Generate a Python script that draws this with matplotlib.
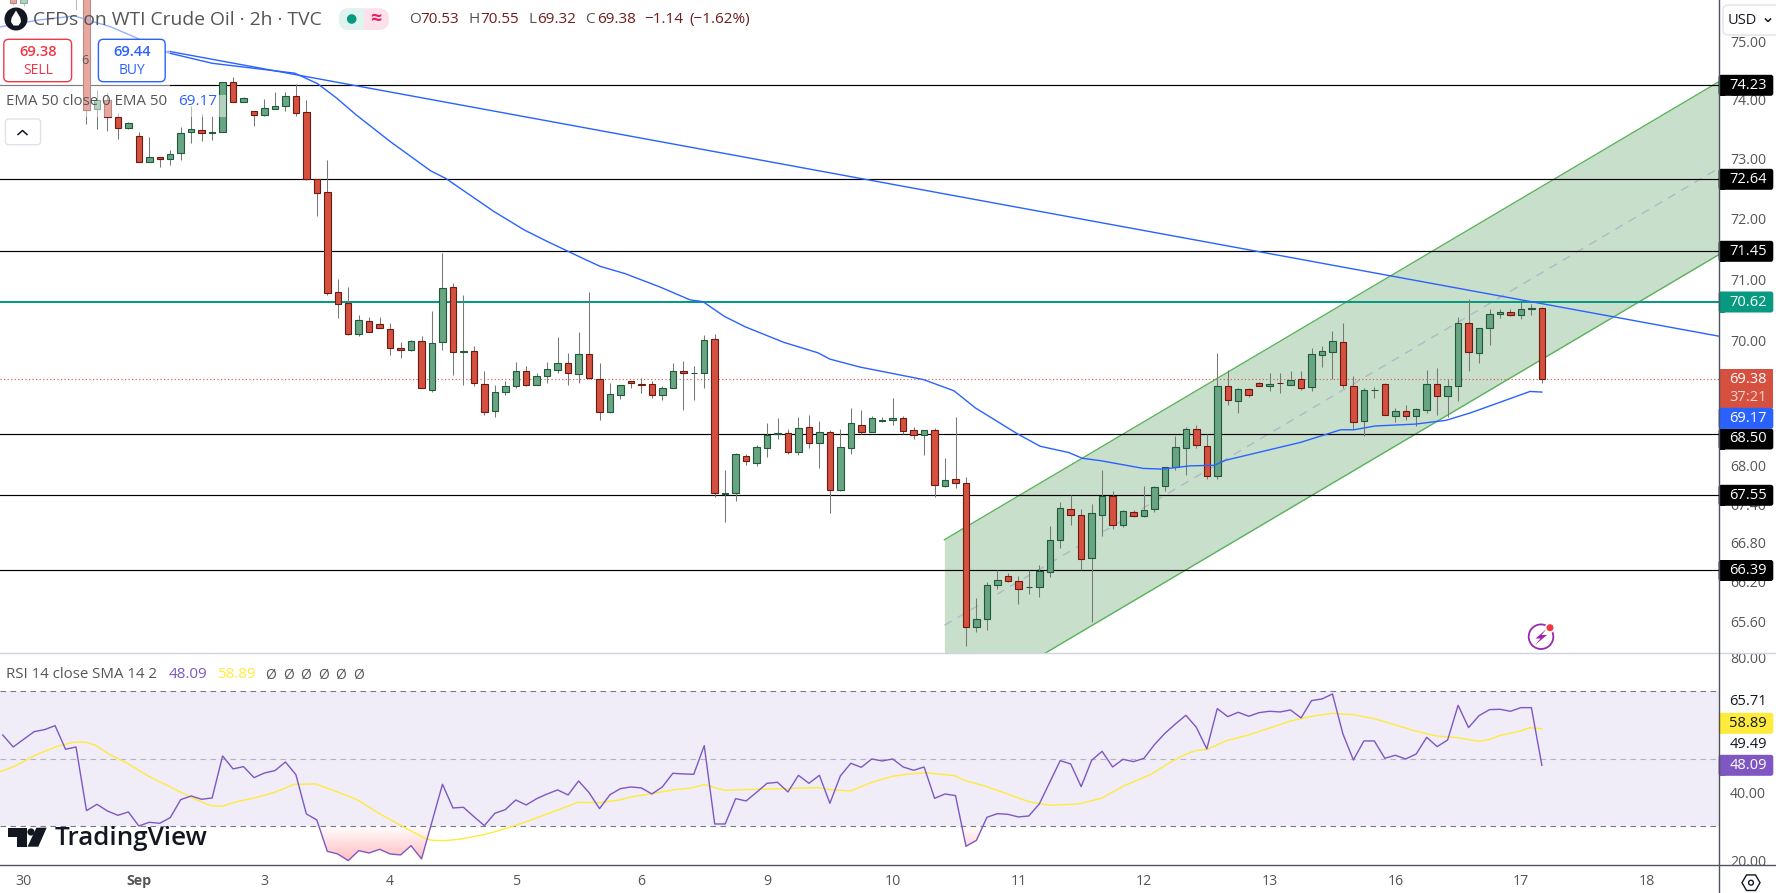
import matplotlib
matplotlib.use("Agg")
import matplotlib.pyplot as plt
import numpy as np
from matplotlib.colors import LinearSegmentedColormap
from matplotlib.patches import Circle, FancyBboxPatch, Polygon, Rectangle, RegularPolygon
from matplotlib.path import Path

plt.rcParams['font.family'] = ['Open Sans', 'DejaVu Sans']

nan = float('nan')

# 2h candles, bars 2-5 sit above the visible range
opens = [76.06, 75.67, nan, nan, nan, nan, 76.30, 76.00, 73.85, 74.00,
         73.71, 73.53, 73.38, 72.95, 73.03, 72.99, 73.10, 73.45, 73.49, 73.44,
         73.46, 74.30, 73.97, 73.81, 73.75, 73.85, 73.89, 74.06, 73.79, 72.66,
         72.44, 70.79, 70.61, 70.11, 70.31, 70.27, 70.19, 69.88, 69.84, 69.99,
         69.21, 69.97, 70.87, 69.81, 69.83, 69.30, 68.87, 69.17, 69.26, 69.51,
         69.29, 69.42, 69.52, 69.64, 69.46, 69.78, 69.38, 68.85, 69.13, 69.35,
         69.30, 69.30, 69.12, 69.24, 69.51, 69.47, 69.47, 70.02, 67.56, 67.57,
         68.16, 68.04, 68.28, 68.51, 68.52, 68.22, 68.62, 68.36, 68.54, 67.62,
         68.28, 68.65, 68.53, 68.71, 68.72, 68.76, 68.56, 68.49, 68.56, 67.68,
         67.80, 67.73, 65.51, 65.63, 66.15, 66.29, 66.21, 66.12, 66.12, 66.36,
         66.85, 67.32, 67.23, 66.57, 67.24, 67.53, 67.07, 67.28, 67.21, 67.32,
         67.68, 67.98, 68.28, 68.59, 68.32, 67.84, 69.27, 69.02, 69.22, 69.32,
         69.26, 69.32, 69.29, 69.38, 69.25, 69.77, 69.81, 69.98, 69.27, 68.71,
         69.20, 69.30, 68.79, 68.87, 68.79, 68.88, 69.30, 69.10, 69.26, 70.28,
         69.79, 70.21, 70.43, 70.46, 70.41, 70.51, 70.53]
highs = [76.20, 76.20, nan, nan, nan, nan, 76.40, 76.10, 74.17, 74.12,
         73.78, 73.63, 73.46, 73.37, 73.04, 73.15, 73.54, 73.89, 73.76, 73.73,
         74.31, 74.39, 74.05, 73.82, 74.02, 74.13, 74.13, 74.27, 74.00, 72.66,
         72.98, 71.00, 70.87, 70.42, 70.38, 70.38, 70.28, 69.98, 70.01, 70.07,
         70.48, 71.43, 70.93, 70.74, 69.91, 69.51, 69.29, 69.35, 69.66, 69.59,
         69.47, 69.66, 70.05, 69.80, 70.13, 70.79, 69.63, 69.32, 69.29, 69.35,
         69.40, 69.35, 69.27, 69.63, 69.67, 69.59, 70.09, 70.11, 67.94, 68.20,
         68.18, 68.33, 68.68, 68.75, 68.59, 68.78, 68.81, 68.71, 68.56, 68.59,
         68.92, 68.88, 68.79, 68.78, 69.07, 68.79, 68.62, 68.57, 68.60, 68.13,
         68.78, 67.83, 65.95, 66.20, 66.38, 66.33, 66.29, 66.38, 66.46, 67.06,
         67.44, 67.54, 67.32, 67.41, 67.94, 67.60, 67.31, 67.31, 67.69, 67.69,
         67.99, 68.47, 68.61, 68.64, 68.51, 69.79, 69.53, 69.24, 69.23, 69.33,
         69.48, 69.47, 69.50, 69.50, 69.88, 69.91, 70.16, 70.29, 69.43, 69.24,
         69.25, 69.31, 68.92, 68.97, 68.91, 69.53, 69.55, 69.38, 70.38, 70.68,
         70.21, 70.51, 70.51, 70.51, 70.62, 70.60, 70.55]
lows = [75.65, 75.63, nan, nan, nan, nan, 75.55, 73.59, 73.51, 73.47,
        73.34, 73.51, 72.94, 72.95, 72.87, 72.90, 72.98, 73.27, 73.31, 73.32,
        73.45, 73.97, 73.97, 73.55, 73.72, 73.85, 73.82, 73.73, 72.65, 72.05,
        70.74, 70.37, 70.09, 70.08, 70.13, 70.20, 69.77, 69.71, 69.83, 69.23,
        69.17, 69.85, 69.45, 69.29, 69.27, 68.80, 68.77, 69.13, 69.24, 69.26,
        69.29, 69.31, 69.47, 69.29, 69.31, 69.38, 68.73, 68.84, 69.06, 69.24,
        69.15, 69.07, 69.04, 69.23, 68.89, 69.05, 69.24, 67.51, 67.13, 67.45,
        68.02, 68.00, 68.14, 68.43, 68.19, 68.17, 68.28, 67.96, 67.27, 67.61,
        68.19, 68.51, 68.53, 68.69, 68.65, 68.51, 68.42, 68.17, 67.52, 67.67,
        67.65, 65.23, 65.44, 65.47, 66.10, 66.20, 65.87, 66.02, 65.97, 66.27,
        66.72, 67.08, 66.38, 65.59, 66.91, 67.02, 67.05, 67.20, 67.20, 67.28,
        67.61, 67.93, 67.86, 68.28, 67.80, 67.79, 68.96, 68.83, 69.09, 69.26,
        69.18, 69.16, 69.28, 69.21, 69.18, 69.58, 69.38, 69.23, 68.59, 68.47,
        69.08, 68.80, 68.69, 68.73, 68.63, 68.83, 68.81, 68.77, 69.02, 69.51,
        69.63, 69.93, 70.37, 70.40, 70.34, 70.42, 69.32]
closes = [75.67, 76.06, nan, nan, nan, nan, 75.90, 73.83, 74.00, 73.71,
          73.53, 73.60, 72.95, 73.03, 72.99, 73.09, 73.43, 73.50, 73.43, 73.45,
          74.30, 73.97, 74.03, 73.75, 73.86, 73.89, 74.06, 73.78, 72.66, 72.43,
          70.78, 70.60, 70.11, 70.33, 70.13, 70.20, 69.88, 69.85, 69.99, 69.24,
          69.96, 70.85, 69.81, 69.83, 69.32, 68.85, 69.17, 69.27, 69.51, 69.29,
          69.43, 69.54, 69.64, 69.47, 69.78, 69.39, 68.85, 69.14, 69.29, 69.32,
          69.28, 69.12, 69.24, 69.51, 69.47, 69.48, 70.00, 67.57, 67.58, 68.18,
          68.08, 68.29, 68.49, 68.52, 68.22, 68.60, 68.36, 68.54, 67.62, 68.29,
          68.67, 68.53, 68.76, 68.72, 68.76, 68.55, 68.49, 68.56, 67.70, 67.78,
          67.73, 65.51, 65.64, 66.15, 66.23, 66.21, 66.10, 66.13, 66.37, 66.84,
          67.34, 67.24, 66.56, 67.26, 67.53, 67.07, 67.29, 67.21, 67.31, 67.67,
          67.99, 68.29, 68.59, 68.33, 67.84, 69.27, 69.05, 69.22, 69.13, 69.26,
          69.30, 69.31, 69.37, 69.23, 69.78, 69.83, 69.99, 69.28, 68.69, 69.21,
          69.21, 68.80, 68.87, 68.79, 68.90, 69.30, 69.10, 69.27, 70.28, 69.81,
          70.20, 70.43, 70.46, 70.41, 70.51, 70.52, 69.38]

ema_bars = [-1.26, 2.37, 5.86, 9.34, 11.90, 14.82, 19.03, 26.89, 29.07, 30.91, 32.73, 36.03,
            39.86, 41.32, 44.06, 45.89, 48.82, 51.01, 54.66, 56.05, 58.43, 61.78, 64.64,
            65.88, 67.93, 69.93, 73.59, 76.87, 77.98, 80.90, 86.94, 89.86, 91.87, 95.87,
            98.07, 100.82, 102.10, 103.93, 107.95, 109.78, 112.34, 114.72, 115.82, 122.94,
            126.78, 128.06, 130.07, 133.91, 136.84, 139.21, 144.87, 146.0]
ema_vals = [75.26, 75.38, 75.45, 75.26, 75.06, 74.81, 74.63, 74.46, 74.28, 74.03, 73.75, 73.29,
            72.80, 72.67, 72.34, 72.12, 71.81, 71.62, 71.32, 71.21, 71.09, 70.87, 70.66,
            70.63, 70.39, 70.22, 69.97, 69.80, 69.70, 69.57, 69.37, 69.19, 68.92, 68.51,
            68.31, 68.21, 68.12, 68.08, 67.96, 67.95, 68.00, 68.01, 68.09, 68.37,
            68.57, 68.57, 68.63, 68.66, 68.72, 68.84, 69.18, 69.17]

# straight drawings on the chart
trend_bars = [14.78, 162.88]
trend_vals = [74.84, 70.07]
channel_bars = [88.94, 162.88]
channel_upper = [66.85, 74.31]
channel_mid = [65.54, 72.84]
channel_lower = [64.23, 71.40]

# where the lines sit on the axis, slightly off the numbers printed on their badges
support_levels = [74.25, 72.66, 71.46, 68.50, 67.55, 66.39]
pivot_level = 70.63
last_price = 69.38

price_ticks = [75, 74, 73, 72, 71, 70, 68, 67.4, 66.8, 66.2, 65.6]

rsi_vals = [57.06, 53.51, 55.78, 58.05, 58.64, 59.83, 52.82, 53.51, 34.64, 36.52, 34.54, 33.26,
            34.25, 30.10, 31.19, 30.89, 32.57, 37.90, 38.99, 38.00, 38.40, 50.84, 47.00, 47.68,
            44.42, 45.80, 46.50, 49.06, 45.31, 33.66, 31.88, 22.59, 21.80, 19.83, 22.79, 22.10,
            23.19, 21.80, 21.51, 24.27, 20.32, 31.38, 42.45, 35.43, 35.63, 32.87, 30.20, 33.85,
            34.94, 37.80, 36.32, 38.20, 39.58, 40.77, 39.29, 43.43, 39.98, 35.24, 39.38, 41.16,
            41.66, 41.36, 39.58, 41.66, 45.71, 45.51, 45.41, 53.90, 30.69, 30.69, 38.20, 37.51,
            40.08, 42.74, 43.04, 40.18, 45.11, 42.74, 45.11, 36.82, 44.92, 48.67, 47.48, 49.95,
            49.36, 49.95, 47.58, 46.59, 47.58, 38.30, 39.58, 39.09, 24.07, 25.85, 32.67, 33.75,
            33.56, 32.77, 33.06, 36.62, 43.04, 49.46, 48.47, 41.75, 49.56, 52.22, 47.58, 49.85,
            49.16, 50.15, 54.20, 57.56, 60.32, 62.89, 59.34, 52.92, 64.87, 62.50, 63.78, 62.60,
            63.68, 64.08, 63.88, 64.47, 62.10, 67.24, 67.73, 69.21, 57.36, 49.66, 55.29, 55.29,
            50.15, 51.04, 49.95, 51.43, 56.37, 53.61, 55.58, 65.85, 59.24, 62.79, 64.57, 64.67,
            64.08, 65.16, 65.16, 48.09]

sma_bars = [-1.26, 0.2, 2.03, 4.22, 5.87, 6.96, 7.88, 9.16, 10.8, 13, 14.82, 16.83, 18.84, 19.94,
            21.4, 23.04, 24.87, 26.88, 28.89, 30.9, 32.91, 34.92, 37.12, 39.31, 40.04, 41.14,
            42.6, 44.98, 47.35, 49.91, 52.1, 53.93, 56.05, 57.88, 58.97, 60.8, 62.99, 64.82,
            65.99, 67.93, 69.94, 73.59, 76.88, 77.98, 79.99, 82, 84, 85.29, 87.12, 89.86, 90.95,
            92.78, 94.79, 96.98, 99, 101.74, 103.93, 106.12, 108.68, 110.51, 111.97, 113, 113.98,
            115.81, 118, 119.83, 122.03, 123.85, 125.94, 127.98, 129.99, 131.89, 133.9, 135.91,
            137.92, 139.93, 140.96, 141.94, 143.95, 144.87, 146]
sma_vals = [46.20, 47.88, 50.94, 53.71, 54.99, 54.89, 54.00, 51.34, 48.87, 44.72, 41.95, 38.79,
            36.12, 35.93, 37.31, 38.40, 39.98, 42.45, 42.55, 40.27, 37.80, 33.85, 30.10, 26.45,
            25.85, 25.75, 26.15, 27.53, 29.61, 32.37, 34.94, 37.11, 37.01, 37.80, 38.69, 39.58,
            40.77, 41.36, 42.35, 40.67, 40.87, 41.16, 41.46, 40.87, 40.47, 43.04, 44.82, 45.41,
            45.90, 45.01, 43.53, 41.95, 39.78, 37.31, 36.22, 36.62, 38.30, 42.05, 45.41, 48.97,
            51.34, 52.52, 52.72, 55.29, 57.07, 58.94, 61.21, 62.50, 63.48, 63.09, 61.90, 60.13,
            58.25, 56.77, 56.27, 55.19, 55.68, 56.87, 58.25, 59.24, 58.89]

rsi_ticks = [80, 40, 20]
day_ticks = [1, 12, 24, 36, 48, 60, 72, 84, 96, 108, 120, 132, 144, 156]
day_labels = ['30', 'Sep', '3', '4', '5', '6', '9', '10', '11', '12', '13', '16', '17', '18']

W, H = 1776, 893
AXIS_X = 1718.6
MAIN_BOTTOM = 652.5
RSI_TOP, RSI_BOTTOM = 653.0, 864.5

fig = plt.figure(figsize=(W / 100, H / 100), dpi=100, facecolor='white')
ax = fig.add_axes([0, (H - MAIN_BOTTOM) / H, AXIS_X / W, MAIN_BOTTOM / H])
ax_rsi = fig.add_axes([0, (H - RSI_BOTTOM) / H, AXIS_X / W, (RSI_BOTTOM - RSI_TOP) / H])
chrome = fig.add_axes([0, 0, 1, 1], zorder=10)

xlim = (-1.26, 162.88)
bars = np.arange(len(opens))
opens, highs, lows, closes = map(np.array, (opens, highs, lows, closes))

# price pane
ax.set_yscale('log')
ax.fill_between(channel_bars, channel_lower, channel_upper, color='#c8dfcb', lw=0, zorder=1)
ax.plot(channel_bars, channel_upper, color='#5cb35c', lw=1.0, zorder=1.5)
ax.plot(channel_bars, channel_lower, color='#5cb35c', lw=1.0, zorder=1.5)
ax.plot(channel_bars, channel_mid, color='#b4b8c4', lw=1.0, dashes=(6, 5), zorder=1.5)

for level in support_levels:
    ax.axhline(level, color='black', lw=0.85, zorder=2)
ax.axhline(pivot_level, color='#089981', lw=1.45, zorder=2)
ax.axhline(last_price, color='#d6503f', lw=0.8, ls=(0, (1, 2.2)), zorder=2)

up = closes >= opens
ax.vlines(bars, lows, highs, color='#787878', lw=0.75, zorder=3)
for mask, face, edge in [(up, '#69a582', '#1f5a3c'), (~up, '#d4503f', '#6e1a13')]:
    bottom = np.minimum(opens, closes)[mask]
    height = np.abs(closes - opens)[mask]
    ax.bar(bars[mask], height, bottom=bottom, width=0.62, color=face, edgecolor=edge,
           linewidth=0.8, zorder=3.5)

ax.plot(ema_bars, ema_vals, color='#2962ff', lw=1.0, zorder=4)
ax.plot(trend_bars, trend_vals, color='#2962ff', lw=1.0, zorder=4)

ax.set_xlim(xlim)
ax.set_ylim(65.13, 75.73)
ax.set_xticks([])
ax.set_yticks(price_ticks, labels=['%.2f' % t for t in price_ticks])
ax.minorticks_off()
ax.yaxis.tick_right()
ax.tick_params(axis='y', length=0, pad=8.2, labelsize=10.2, labelcolor='#555555')
for s in ax.spines.values():
    s.set_visible(False)

# rsi pane
rsi_bars = np.arange(-1, len(rsi_vals) - 1)
rsi_vals = np.array(rsi_vals)
ax_rsi.axhspan(30, 70, color='#f0ecf8', lw=0, zorder=0)
ax_rsi.axhline(70, color='#787b86', lw=0.8, dashes=(5, 4), zorder=1)
ax_rsi.axhline(50, color='#b2b5be', lw=0.8, dashes=(5, 4), zorder=1)
ax_rsi.axhline(30, color='#787b86', lw=0.8, dashes=(5, 4), zorder=1)

low_zone = ax_rsi.fill_between(rsi_bars, rsi_vals, 30, where=rsi_vals < 30, interpolate=True,
                               facecolor='none', lw=0)
fade = LinearSegmentedColormap.from_list('fade', ['#ffb9bd', '#ffffff'])
im = ax_rsi.imshow(np.linspace(0, 1, 256).reshape(-1, 1), cmap=fade, origin='lower', aspect='auto',
                   extent=(xlim[0], xlim[1], 19, 30), zorder=0.5)
im.set_clip_path(Path.make_compound_path(*low_zone.get_paths()), transform=ax_rsi.transData)

ax_rsi.plot(sma_bars, sma_vals, color='#ffeb3b', lw=1.0, zorder=2)
ax_rsi.plot(rsi_bars, rsi_vals, color='#7e57c2', lw=1.0, zorder=3)
ax_rsi.set_xlim(xlim)
ax_rsi.set_ylim(18.68, 81.35)
ax_rsi.yaxis.tick_right()
ax_rsi.set_yticks(rsi_ticks, labels=['%.2f' % t for t in rsi_ticks])
ax_rsi.set_xticks(day_ticks, labels=day_labels)
ax_rsi.tick_params(axis='y', length=0, pad=8.2, labelsize=10.2, labelcolor='#555555')
ax_rsi.tick_params(axis='x', length=0, pad=6.5, labelsize=10.2, labelcolor='#555555')
ax_rsi.get_xticklabels()[1].set_fontweight('bold')
for s in ax_rsi.spines.values():
    s.set_visible(False)

# everything below is tradingview's interface, laid out in screen pixels
chrome.set_xlim(0, W)
chrome.set_ylim(H, 0)
chrome.axis('off')


def txt(x, y, s, color='#555555', size=10.2, ha='left', **kw):
    chrome.text(x, y, s, color=color, fontsize=size, ha=ha, va='center', **kw)


def rbox(x, y, w, h, face, edge='none', lw=0.0, rad=3.0, **kw):
    box = FancyBboxPatch((x, y), w, h, boxstyle='round,pad=0,rounding_size=%g' % rad,
                         fc=face, ec=edge, lw=lw, **kw)
    chrome.add_patch(box)
    return box


def badge(yc, label, face, color='white', h=21):
    rbox(AXIS_X, yc - h / 2, 1773.3 - AXIS_X, h, face, rad=2.5)
    chrome.add_patch(Rectangle((AXIS_X, yc - h / 2), 6, h, fc=face, lw=0))
    txt(1748, yc, label, color=color, size=10.5, ha='center')


# washed out chart under the legend rows
for x, y, w, h in [(0, 0, 330, 38), (0, 38, 170, 57), (0, 95, 226, 22)]:
    chrome.add_patch(Rectangle((x, y), w, h, fc='white', alpha=0.5, lw=0))

# header
chrome.add_patch(Circle((16, 19), 11.5, fc='#131722', lw=0))
chrome.add_patch(Polygon([(16, 10.5), (20.5, 18), (21, 22), (18.5, 25.5), (13.5, 25.5), (11, 22),
                          (11.5, 18)], closed=True, fc='white', lw=0))
txt(32.5, 20, 'CFDs on WTI Crude Oil · 2h · TVC', color='#555555', size=13.9)

rbox(339, 8.3, 50, 21.7, '#fce0ea', rad=10)
left_half = rbox(339, 8.3, 50, 21.7, '#e0f3ef', rad=10)
left_half.set_clip_path(Rectangle((339, 0), 25, 40, transform=chrome.transData))
chrome.add_patch(Circle((351.7, 19), 4.8, fc='#089981', lw=0, zorder=2))
txt(375.5, 19, '≈', color='#e91e63', size=14, ha='center', fontweight='bold', zorder=2)

VALUE_RED = '#6f1c1c'
for x, s, c in [(408.7, 'O', '#555555'), (420.7, '70.53', VALUE_RED), (468.7, 'H', '#555555'),
                (480.7, '70.55', VALUE_RED), (528, 'L', '#555555'), (537.3, '69.32', VALUE_RED),
                (585, 'C', '#555555'), (596.7, '69.38', VALUE_RED), (644, '−1.14', VALUE_RED),
                (689.3, '(−1.62%)', VALUE_RED)]:
    txt(x, 19.5, s, color=c, size=11)

# sell / buy
rbox(3.8, 39.3, 67.8, 42.4, 'white', edge='#f23645', lw=1.0, rad=5)
txt(37.7, 52.5, '69.38', color='#f23645', size=10.5, ha='center', fontweight='semibold')
txt(37.7, 70, 'SELL', color='#f23645', size=10, ha='center')
rbox(98.4, 39.3, 66.8, 42.4, 'white', edge='#2962ff', lw=1.0, rad=5)
txt(131.8, 52.5, '69.44', color='#2962ff', size=10.5, ha='center', fontweight='semibold')
txt(131.8, 70, 'BUY', color='#2962ff', size=10, ha='center')

txt(85, 60, '6', color='#555555', size=9, ha='center')
txt(5.7, 101.7, 'EMA 50 close 0 EMA 50', color='#555555', size=10.8)
txt(178, 101.7, '69.17', color='#2962ff', size=11)
rbox(5.4, 119, 35.2, 25.7, 'white', edge='#e0e3eb', lw=1.0, rad=3)
chrome.plot([18, 22.5, 27], [134.5, 130.5, 134.5], color='#131722', lw=1.1)

# rsi legend
txt(5.7, 675, 'RSI 14 close SMA 14 2', color='#555555', size=10.8)
txt(169, 675, '48.09', color='#7e57c2', size=11)
txt(216.6, 675, '58.89', color='#ffeb3b', size=11)
for x in [264.8, 283, 300.5, 318.4, 335.6, 353]:
    txt(x, 675, 'Ø', color='#555555', size=10)

# tradingview logo
chrome.add_patch(Polygon([(8.4, 827.7), (26.8, 827.7), (26.8, 846.7), (17.2, 846.7), (17.2, 836.7),
                          (8.4, 836.7)], closed=True, fc='#131722', lw=0))
chrome.add_patch(Circle((31, 832), 3.6, fc='#131722', lw=0))
chrome.add_patch(Polygon([(36.4, 827.7), (46.7, 827.7), (38.3, 846.7), (27.5, 846.7)], closed=True,
                         fc='#131722', lw=0))
txt(55, 838.5, 'TradingView', color='#131722', size=18.7, fontweight='semibold')

# alert icon
chrome.add_patch(Circle((1541, 636.7), 12.3, fc='none', ec='#9c27b0', lw=1.3))
chrome.add_patch(Polygon([(1547, 628.5), (1535.5, 638.5), (1540.5, 638.5), (1535, 645), (1547, 635),
                          (1541.5, 635)], closed=True, fc='#9c27b0', lw=0))
chrome.add_patch(Circle((1550, 627.7), 5.2, fc='white', lw=0))
chrome.add_patch(Circle((1550, 627.7), 3.5, fc='#f23645', lw=0))

# frame lines
chrome.add_patch(Rectangle((AXIS_X, RSI_BOTTOM), W - AXIS_X, H - RSI_BOTTOM, fc='white', lw=0))
chrome.plot([0, W], [RSI_TOP, RSI_TOP], color='#d1d4dc', lw=1.0)
chrome.plot([0, W], [RSI_BOTTOM, RSI_BOTTOM], color='#50535e', lw=1.0)
chrome.plot([AXIS_X, AXIS_X], [0, H], color='#50535e', lw=1.0)

# price badges
for yc, label in [(85.3, '74.23'), (179.3, '72.64'), (251.3, '71.45'), (439, '68.50'),
                  (495.3, '67.55'), (570.5, '66.39')]:
    badge(yc, label, 'black')
badge(302, '70.62', '#089981')
chrome.add_patch(Rectangle((AXIS_X, 369), 1773.3 - AXIS_X, 39, fc='#d6503f', lw=0))
txt(1748, 379.5, '69.38', color='white', size=10.5, ha='center')
txt(1748, 397.7, '37:21', color='#f7d3ce', size=10.5, ha='center')
badge(418.3, '69.17', '#2962ff')

# rsi badges
txt(1748, 701.7, '65.71', color='#131722', size=10.5, ha='center')
txt(1748, 745, '49.49', color='#131722', size=10.5, ha='center')
badge(723.3, '58.89', '#ffeb3b', color='#131722')
badge(765.3, '48.09', '#7e57c2')

# currency button and settings icon
rbox(1723, 5, 60, 30, 'white', edge='#e0e3eb', lw=1.0, rad=5)
txt(1728, 20.3, 'USD', color='#131722', size=10.5)
chrome.plot([1765.5, 1768, 1770.5], [19, 21.5, 19], color='#131722', lw=1.1)
chrome.add_patch(RegularPolygon((1751, 882.7), 6, radius=9, orientation=np.pi / 2, fc='none',
                                ec='#131722', lw=1.0))
chrome.add_patch(Circle((1751, 882.7), 2.4, fc='none', ec='#131722', lw=1.0))

fig.savefig('out.png', dpi=100, facecolor='white')
